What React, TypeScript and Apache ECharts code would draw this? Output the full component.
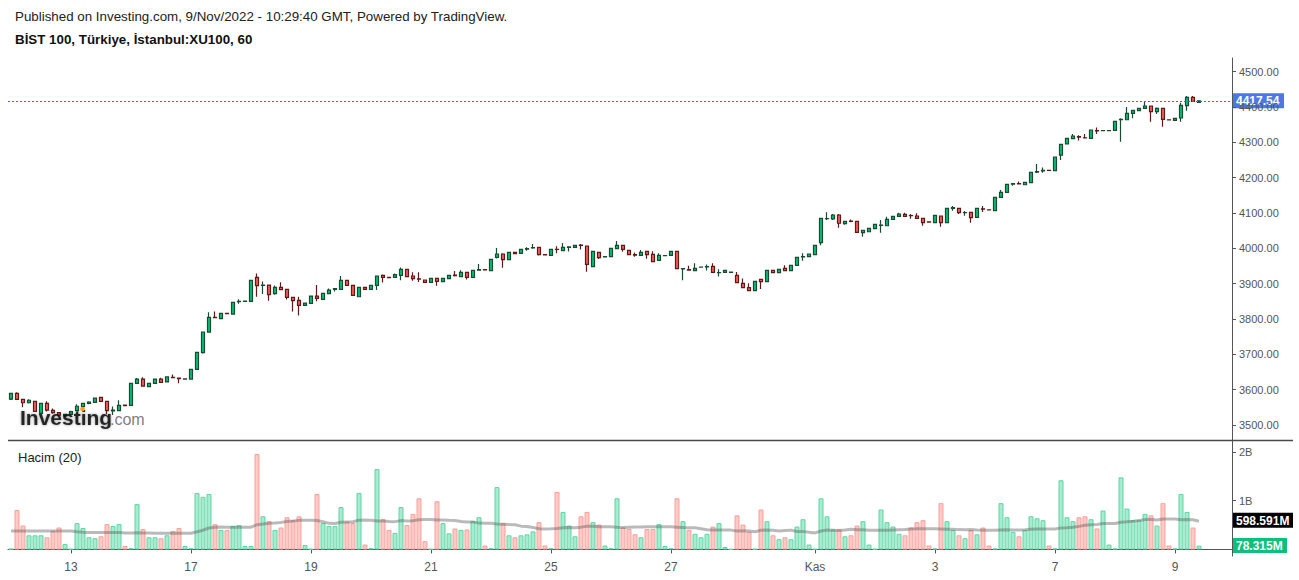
import React, { useEffect, useRef } from 'react';
import * as echarts from 'echarts';

const FONT = '"Liberation Sans", Arial, Helvetica, sans-serif';

// trading days shown and number of hourly bars per day
const dayLabels = ['12', '13', '14', '17', '18', '19', '20', '21', '24', '25', '26', '27', '28', '31', 'Kas', '2', '3', '4', '7', '8', '9'];
const barsPerDay = [10, 10, 10, 10, 10, 10, 10, 10, 10, 10, 10, 10, 4, 10, 10, 10, 10, 10, 10, 10, 5];
const shownDayLabels = ['13', '17', '19', '21', '25', '27', 'Kas', '3', '7', '9'];
const emptyBarsRight = 5;

const opens = [
  3573, 3589.6, 3572.6, 3563, 3567, 3533, 3561, 3541.5, 3535, 3526,
  3530, 3540.6, 3552, 3561, 3564, 3578, 3567, 3540, 3540.6, 3556,
  3555.6, 3618, 3630, 3608.5, 3618, 3630, 3622, 3635, 3633, 3630,
  3630, 3657.5, 3705, 3763, 3805, 3801, 3816, 3814, 3849, 3850,
  3850, 3918, 3895, 3896, 3871.7, 3889.6, 3884, 3861, 3852.8, 3838.7,
  3844.3, 3865, 3855.7, 3871.7, 3884, 3884, 3909.4, 3895, 3863, 3889.6,
  3884, 3895.3, 3923.6, 3918, 3918, 3923.6, 3940.6, 3921.7, 3914, 3910.4,
  3903.8, 3915, 3905.7, 3914.2, 3924, 3919.8, 3932, 3918, 3938, 3940,
  3936.8, 3974.5, 3984, 3968, 3988.7, 3985.8, 3998, 4001, 4002.8, 3982,
  3980, 3997.5, 3993.4, 4003, 4002.8, 4009, 4006.6, 3948, 3988.7, 3976,
  3976.4, 3999, 4008.5, 3994.3, 3982, 3980, 3991.5, 3983, 3966, 3979,
  3980, 3991.5, 3942, 3939.5, 3936.8, 3947, 3947.5, 3949, 3931, 3932,
  3932, 3923.6, 3901, 3888.7, 3880.2, 3912.3, 3905.7, 3937.7, 3931, 3943.4,
  3937, 3951.9, 3976, 3976.4, 3982, 4016, 4084, 4083, 4094.4, 4069.8,
  4077, 4076.5, 4044.4, 4047, 4055.7, 4065, 4064, 4082, 4090.6, 4096.3,
  4093, 4091.5, 4085, 4075, 4072.7, 4091.5, 4072.7, 4113, 4113.2, 4101,
  4102, 4087.8, 4112, 4109, 4106.6, 4144.4, 4158.5, 4182, 4183.5, 4180,
  4186, 4216, 4219, 4221, 4220, 4264, 4296, 4310.5, 4316, 4313,
  4311.4, 4333, 4333, 4333, 4334, 4364, 4364, 4382, 4389.7, 4396.3,
  4402.9, 4386.9, 4396.3, 4364, 4362.3, 4369, 4403.9, 4427.4, 4413,
];

const closes = [
  3589.6, 3572.6, 3563, 3570, 3538.6, 3561, 3542, 3535, 3528, 3530,
  3538, 3553, 3561, 3565, 3576, 3567, 3540.6, 3542, 3555.6, 3555,
  3618, 3630, 3610, 3618, 3630, 3620.8, 3636, 3634, 3631, 3630.5,
  3657.5, 3705.6, 3763.2, 3804.7, 3804, 3816, 3815, 3847.2, 3850, 3850.5,
  3909.4, 3894.4, 3896, 3869, 3889.6, 3883, 3861, 3852, 3838.7, 3845,
  3865, 3858.5, 3872.6, 3882, 3886, 3909.4, 3895.3, 3867, 3889.6, 3884,
  3895, 3921.7, 3918, 3917, 3925.5, 3940.6, 3919.8, 3914.2, 3913, 3903.8,
  3915, 3906.6, 3915.1, 3923.6, 3923, 3932, 3918, 3937.7, 3939.5, 3939,
  3968.9, 3984, 3968, 3988.7, 3985, 3997, 3999, 4002, 3982, 3981.5,
  3997, 3997, 4002.8, 4004, 4008.5, 4008, 3954.7, 3991.5, 3973.6, 3976.5,
  4000, 4008.5, 3997, 3982, 3981, 3988.7, 3982, 3962.3, 3980, 3979.5,
  3991.5, 3942.4, 3942.5, 3938.6, 3943.4, 3947.2, 3948, 3932, 3931.5, 3937.7,
  3932.5, 3902.8, 3888.7, 3880.2, 3906.6, 3905.7, 3937.7, 3931, 3940.6, 3936.8,
  3951.9, 3974.5, 3976.4, 3984, 4008.5, 4085, 4084.5, 4094.4, 4071, 4076.5,
  4076, 4045.3, 4051, 4056.6, 4068, 4065.6, 4082, 4090.6, 4097.2, 4090.6,
  4092.5, 4085, 4072.7, 4074.5, 4093.4, 4072.7, 4113.2, 4115, 4101, 4101.5,
  4087, 4113.2, 4111, 4108.5, 4144.4, 4158.5, 4181.2, 4183, 4182.7, 4186.8,
  4215, 4217, 4221, 4220.5, 4258.5, 4294.4, 4311.4, 4318, 4315, 4312.3,
  4335, 4332.5, 4333.3, 4333.5, 4359.5, 4365, 4382.1, 4390.6, 4396.3, 4402.9,
  4386.9, 4396.3, 4365.2, 4363.3, 4368, 4404.8, 4427.4, 4416, 4417.54,
];

const lows = [
  3571, 3571, 3550, 3561, 3537, 3532, 3538, 3532, 3526, 3522,
  3529, 3538, 3549, 3559, 3562, 3566, 3531, 3528, 3539, 3554,
  3555, 3617, 3609, 3607, 3617, 3619, 3621, 3632, 3618, 3629,
  3629, 3656, 3702, 3762, 3802, 3799, 3814, 3813, 3843, 3849,
  3849, 3863, 3871, 3852, 3869, 3882, 3855, 3821, 3810, 3837,
  3843, 3850, 3854, 3870, 3878, 3883, 3894, 3865, 3862, 3883,
  3883, 3882, 3903, 3916, 3917, 3910, 3918, 3908, 3905, 3903,
  3903, 3894, 3904, 3913, 3920, 3918, 3912, 3917, 3937, 3938,
  3936, 3971, 3945, 3967, 3983, 3985, 3993, 3999, 3980, 3980,
  3979, 3986, 3992, 3991, 4002, 3997, 3934, 3947, 3970, 3975,
  3975, 3998, 3990.6, 3981, 3976, 3979, 3970.7, 3961, 3965, 3978,
  3979, 3941, 3910, 3937, 3936, 3946, 3937, 3931, 3920, 3931,
  3931.5, 3902, 3888, 3879, 3879.5, 3885, 3905, 3930, 3930, 3936,
  3936, 3951, 3965, 3975.5, 3981, 4009, 4080, 4080, 4058.5, 4067,
  4074, 4044, 4033, 4046, 4054.7, 4044, 4063, 4081, 4089.6, 4089.6,
  4084, 4084, 4064, 4073.5, 4072, 4061, 4072, 4106.6, 4097, 4092.5,
  4072.7, 4087, 4103, 4107.5, 4106, 4143.5, 4157.5, 4177, 4181.7, 4179,
  4185, 4213, 4214, 4219.5, 4219, 4250, 4295, 4309.5, 4305, 4311,
  4310.5, 4324, 4332, 4332, 4333, 4302, 4363, 4368, 4388.7, 4395.3,
  4358.5, 4380, 4344.4, 4362.3, 4361.3, 4358.5, 4389.7, 4415, 4412,
];

const highs = [
  3591, 3593, 3574, 3573, 3568, 3562, 3567, 3547, 3537, 3532,
  3540, 3559, 3563, 3567, 3577, 3579, 3568, 3552, 3570, 3557,
  3619, 3633, 3635, 3619, 3631, 3634, 3637, 3643, 3634, 3631,
  3658, 3706, 3764, 3819, 3821, 3818, 3817, 3848, 3856, 3851,
  3910, 3929, 3906, 3897, 3895, 3904, 3885, 3862, 3863, 3846,
  3866, 3896, 3874, 3886, 3888, 3921.7, 3911, 3896, 3891, 3891,
  3896, 3923, 3926, 3919, 3929, 3946, 3942, 3932, 3932, 3911,
  3916, 3916, 3916, 3925, 3936, 3937.7, 3933, 3939, 3955.6, 3941,
  3970, 4001, 3986, 3990, 3990, 3998, 4003, 4012, 4004, 3983,
  3998, 4005.7, 4015, 4006, 4009.5, 4012, 4008, 3993, 3990, 3977.5,
  4001, 4020.8, 4010, 3996, 3988, 3995, 3992.5, 3991.5, 3986, 3980.5,
  3992.5, 3992.5, 3943, 3951, 3957.5, 3948.5, 3954, 3957.5, 3941, 3938.5,
  3933, 3933, 3915, 3901, 3907.5, 3913, 3939, 3939, 3941.5, 3952,
  3953, 3975.5, 3986, 3985, 4009.5, 4086, 4102, 4097, 4097, 4077.5,
  4082, 4077.5, 4052, 4057.5, 4069, 4080, 4089.6, 4091.5, 4101, 4101,
  4097.5, 4099, 4086, 4076, 4094.4, 4092.5, 4114, 4120, 4114, 4106,
  4103, 4114.2, 4120, 4110, 4145.3, 4165, 4182, 4184, 4189, 4187.8,
  4216, 4238.7, 4229, 4222, 4259.5, 4295.4, 4312.4, 4324, 4320, 4324,
  4336, 4342, 4334, 4334.5, 4360.5, 4368, 4400, 4391.6, 4397.3, 4417,
  4404, 4399, 4397.3, 4365, 4369, 4412, 4431, 4431, 4419,
];

// volume in billions
const volumesB = [
  0.014, 0.81, 0.49, 0.29, 0.29, 0.29, 0.25, 0.38, 0.45, 0.11,
  0.01, 0.54, 0.44, 0.25, 0.23, 0.27, 0.52, 0.48, 0.52, 0.07,
  0.03, 0.93, 0.42, 0.25, 0.25, 0.23, 0.29, 0.38, 0.44, 0.07,
  0.03, 1.16, 1.08, 1.14, 0.52, 0.40, 0.40, 0.48, 0.50, 0.07,
  0.07, 1.96, 0.68, 0.58, 0.40, 0.45, 0.66, 0.60, 0.68, 0.09,
  0.01, 1.14, 0.54, 0.48, 0.48, 0.87, 0.57, 0.54, 1.16, 0.10,
  0.03, 1.65, 0.62, 0.40, 0.34, 0.87, 0.50, 0.73, 1.05, 0.17,
  0.01, 0.99, 0.54, 0.33, 0.43, 0.40, 0.41, 0.58, 0.66, 0.08,
  0.03, 1.28, 0.54, 0.29, 0.25, 0.29, 0.31, 0.37, 0.56, 0.08,
  0.03, 1.18, 0.77, 0.49, 0.27, 0.68, 0.77, 0.56, 0.51, 0.08,
  0.03, 1.05, 0.45, 0.42, 0.31, 0.25, 0.42, 0.42, 0.52, 0.07,
  0.03, 1.05, 0.58, 0.40, 0.32, 0.25, 0.32, 0.47, 0.54, 0.05,
  0.005, 0.70, 0.51, 0.36, 0.01, 0.82, 0.58, 0.29, 0.21, 0.25,
  0.21, 0.47, 0.62, 0.10, 0.01, 1.05, 0.68, 0.41, 0.41, 0.27,
  0.29, 0.49, 0.58, 0.10, 0.01, 0.82, 0.56, 0.47, 0.32, 0.29,
  0.45, 0.56, 0.60, 0.08, 0.02, 0.95, 0.58, 0.40, 0.29, 0.23,
  0.40, 0.31, 0.45, 0.08, 0.02, 0.95, 0.66, 0.36, 0.27, 0.40,
  0.68, 0.64, 0.60, 0.08, 0.02, 1.42, 0.66, 0.58, 0.66, 0.68,
  0.62, 0.43, 0.80, 0.10, 0.02, 1.48, 0.84, 0.60, 0.60, 0.73,
  0.70, 0.49, 0.95, 0.08, 0.02, 1.14, 0.77, 0.45, 0.078315,
];

// colour of each volume bar as seen: g = up, r = down
const volumeDirs = (
  'grrgggrrrg' + 'gggggrrggr' + 'ggrggrgrrg' + 'ggggrgrggg' + 'grgrgrrrrg' +
  'grggggrrgr' + 'ggrrggrrrr' + 'grggrgrggr' + 'ggrgrgggrr' + 'grgggrrgrg' +
  'ggrrrgrrgg' + 'grgrgggrgg' + 'grrrgrgrgr' + 'ggggggggrg' + 'rrgggggggr' +
  'rrrrgrggrg' + 'rgrrggggrg' + 'gggrggggrr' + 'grgggggggg' + 'rgrrgggrg'
).split('');

// volume MA(20) values before 20 bars are available
const volumeMaHead = [0.38, 0.38, 0.38, 0.38, 0.38, 0.38, 0.38, 0.38, 0.38, 0.38, 0.38, 0.365, 0.355, 0.35, 0.35, 0.35, 0.35, 0.35, 0.35];
const maPeriod = 20;

const priceTicks = [3500, 3600, 3700, 3800, 3900, 4000, 4100, 4200, 4300, 4400, 4500];
const volumeTicks = [1, 2];
const lastPrice = 4417.54;
const lastVolumeMa = 0.598591;
const lastVolume = 0.078315;

const titleLine1 = 'Published on Investing.com, 9/Nov/2022 - 10:29:40 GMT, Powered by TradingView.';
const titleLine2 = 'BİST 100, Türkiye, İstanbul:XU100, 60';
const volumeTitle = 'Hacim (20)';

// ---- derived structures ----
const categories: string[] = [];
const labelIndexSet = new Set<number>();
dayLabels.forEach((d, di) => {
  for (let k = 0; k < barsPerDay[di]; k++) {
    if (k === 0) {
      if (shownDayLabels.includes(d)) labelIndexSet.add(categories.length);
      categories.push(d);
    } else {
      categories.push(d + '|' + k);
    }
  }
});
for (let k = 0; k < emptyBarsRight; k++) categories.push('pad|' + k);

const candleData = opens.map((o, i) => [o, closes[i], lows[i], highs[i]]);

const UP_FILL = '#a6ecd0';
const UP_EDGE = '#5fd6a3';
const DN_FILL = '#ffc9c5';
const DN_EDGE = '#f7a19b';

const volumeData = volumesB.map((v, i) => ({
  value: v,
  itemStyle: {
    color: volumeDirs[i] === 'g' ? UP_FILL : DN_FILL,
    borderColor: volumeDirs[i] === 'g' ? UP_EDGE : DN_EDGE,
    borderWidth: 1,
  },
}));

const volumeMa = volumesB.map((_, i) => {
  if (i < maPeriod - 1) return volumeMaHead[i];
  let s = 0;
  for (let k = i - maPeriod + 1; k <= i; k++) s += volumesB[k];
  return s / maPeriod;
});

const showLabel = (index: number) => labelIndexSet.has(index);

export default function App() {
  const ref = useRef<HTMLDivElement>(null);

  useEffect(() => {
    if (!ref.current) return;
    const chart = echarts.init(ref.current, null, { renderer: 'svg' });

    const option: any = {
      animation: false,
      backgroundColor: '#ffffff',
      textStyle: { fontFamily: FONT },
      grid: [
        { left: 8, top: 58, width: 1224, height: 382 },
        { left: 8, top: 441, width: 1224, height: 115 },
      ],
      xAxis: [
        {
          type: 'category',
          gridIndex: 0,
          data: categories,
          boundaryGap: true,
          axisLine: { show: false },
          axisTick: { show: false },
          axisLabel: { show: false },
          splitLine: { show: false },
        },
        {
          type: 'category',
          gridIndex: 1,
          data: categories,
          boundaryGap: true,
          axisLine: { show: true, lineStyle: { color: '#555', width: 1 } },
          axisTick: { show: true, alignWithLabel: true, interval: showLabel, length: 4, lineStyle: { color: '#555' } },
          axisLabel: {
            show: true,
            interval: showLabel,
            formatter: (v: string) => (v.includes('|') ? '' : v),
            color: '#555',
            fontSize: 12,
            margin: 5,
            fontFamily: FONT,
          },
          splitLine: { show: false },
        },
      ],
      yAxis: [
        {
          type: 'value',
          gridIndex: 0,
          position: 'right',
          min: 3457.5,
          max: 4538.8,
          axisLine: { show: true, lineStyle: { color: '#555', width: 1 } },
          axisTick: { show: true, length: 4, customValues: priceTicks, lineStyle: { color: '#555' } },
          axisLabel: {
            customValues: priceTicks,
            formatter: (v: number) => v.toFixed(2),
            color: '#555',
            fontSize: 11,
            margin: 7,
            fontFamily: FONT,
          },
          splitLine: { show: false },
        },
        {
          type: 'value',
          gridIndex: 1,
          position: 'right',
          min: -0.135,
          max: 2.226,
          axisLine: { show: true, lineStyle: { color: '#555', width: 1 } },
          axisTick: { show: true, length: 4, customValues: volumeTicks, lineStyle: { color: '#555' } },
          axisLabel: {
            customValues: volumeTicks,
            formatter: (v: number) => v + 'B',
            color: '#555',
            fontSize: 11,
            margin: 7,
            fontFamily: FONT,
          },
          splitLine: { show: false },
        },
      ],
      series: [
        {
          type: 'candlestick',
          xAxisIndex: 0,
          yAxisIndex: 0,
          data: candleData,
          barWidth: 4,
          itemStyle: {
            color: '#05c074',
            color0: '#f85c55',
            borderColor: '#1a4a32',
            borderColor0: '#5a1c1a',
            borderWidth: 1.2,
          },
          markLine: {
            silent: true,
            symbol: ['none', 'none'],
            label: { show: false },
            lineStyle: { type: [2, 2], color: '#3a6ee0', width: 1 },
            data: [{ yAxis: lastPrice }],
          },
        },
        {
          type: 'bar',
          xAxisIndex: 1,
          yAxisIndex: 1,
          data: volumeData,
          barWidth: 5,
        },
        {
          type: 'line',
          xAxisIndex: 1,
          yAxisIndex: 1,
          data: volumeMa,
          showSymbol: false,
          symbol: 'none',
          lineStyle: { color: 'rgba(90,90,90,0.42)', width: 3 },
          z: 5,
        },
      ],
    };

    chart.setOption(option);

    const pricePx = chart.convertToPixel({ yAxisIndex: 0 }, lastPrice) as number;
    const maPx = chart.convertToPixel({ yAxisIndex: 1 }, lastVolumeMa) as number;
    const volPx = chart.convertToPixel({ yAxisIndex: 1 }, lastVolume) as number;

    const valueBox = (y: number, w: number, text: string, bg: string) => ({
      type: 'group',
      z: 100,
      children: [
        { type: 'rect', shape: { x: 1233, y: y - 7.5, width: w, height: 15 }, style: { fill: bg } },
        {
          type: 'text',
          x: 1236,
          y: y + 0.5,
          style: { text, fill: '#ffffff', font: `bold 12px ${FONT}`, verticalAlign: 'middle', align: 'left' },
        },
      ],
    });

    chart.setOption({
      graphic: [
        {
          type: 'text',
          x: 15,
          y: 16.5,
          style: { text: titleLine1, fill: '#222', font: `13.35px ${FONT}`, verticalAlign: 'middle' },
        },
        {
          type: 'text',
          x: 15,
          y: 39.5,
          style: { text: titleLine2, fill: '#111', font: `bold 13.35px ${FONT}`, verticalAlign: 'middle' },
        },
        {
          type: 'text',
          x: 18,
          y: 457,
          style: { text: volumeTitle, fill: '#222', font: `13px ${FONT}`, verticalAlign: 'middle' },
        },
        {
          type: 'line',
          shape: { x1: 8, y1: 440.5, x2: 1293, y2: 440.5 },
          style: { stroke: '#4a4a4a', lineWidth: 1.5 },
          z: 50,
        },
        {
          type: 'text',
          x: 20,
          y: 417,
          z: 40,
          style: {
            text: 'Investing',
            fill: 'rgba(15,15,15,0.88)',
            font: `bold 21px ${FONT}`,
            verticalAlign: 'middle',
            textShadowBlur: 3,
            textShadowColor: 'rgba(0,0,0,0.45)',
          },
        },
        {
          type: 'text',
          x: 110,
          y: 419,
          z: 40,
          style: { text: '.com', fill: 'rgba(110,110,110,0.9)', font: `16px ${FONT}`, verticalAlign: 'middle' },
        },
        {
          type: 'circle',
          z: 41,
          shape: { cx: 82.5, cy: 409, r: 2.3 },
          style: { fill: '#f5a31a' },
        },
        valueBox(pricePx, 51, lastPrice.toFixed(2), '#4a79e6'),
        valueBox(maPx, 60, (lastVolumeMa * 1000).toFixed(3) + 'M', '#000000'),
        valueBox(volPx, 54, (lastVolume * 1000).toFixed(3) + 'M', '#0bc07a'),
      ],
    });

    return () => chart.dispose();
  }, []);

  return (
    <div
      ref={ref}
      style={{ position: 'fixed', left: 0, top: 0, width: 1299, height: 580, background: '#ffffff' }}
    />
  );
}
